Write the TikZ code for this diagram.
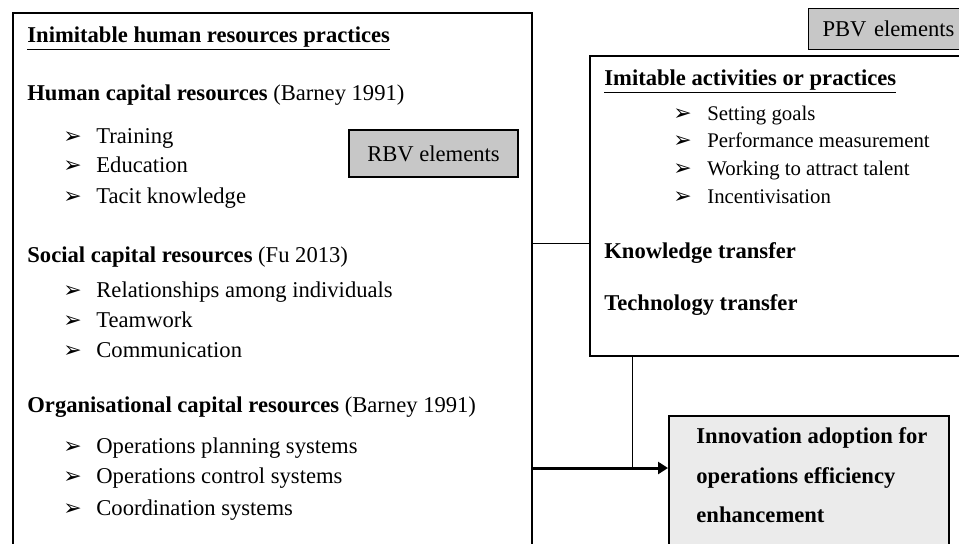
\documentclass[tikz,border=0pt]{standalone}
\usepackage{fontspec}
\setmainfont{Liberation Serif}
\newfontfamily\dingfont{DejaVu Sans}
\usetikzlibrary{arrows.meta}
\tikzset{>={Triangle[length=5pt,width=6pt]}}
\tikzset{
  panel/.style={draw, line width=1pt, inner sep=0pt, anchor=north west},
  tag/.style={draw, line width=0.6pt, fill=black!22, inner sep=0pt},
  txt/.style={anchor=base west, inner sep=0pt, font=\fontsize{11.3}{13}\selectfont},
  sub/.style={anchor=base west, inner sep=0pt, font=\fontsize{10.4}{12}\selectfont},
  link/.style={line width=0.5pt},
  feed/.style={line width=1.5pt, ->}
}
\newcommand{\pointer}[1]{\makebox[#1][l]{\raisebox{0pt}{\dingfont\fontsize{11}{11}\selectfont\char"27A2}}}

\begin{document}
\begin{tikzpicture}[x=0.5pt,y=-0.5pt]
      \clip (0,0) rectangle (959,543);
      % frames
      \node[panel, minimum width=259.5pt, minimum height=274pt] (hr) at (12,12) {};
      \node[panel, minimum width=193pt, minimum height=150pt] (act) at (589,55) {};
      \node[panel, fill=black!8, minimum width=140pt, minimum height=72.5pt] (innov) at (668,415) {};
      \node[tag, minimum width=84.5pt, minimum height=23.5pt, font=\fontsize{11.3}{13}\selectfont] (rbv) at (433.5,153.5) {RBV elements};
      \node[tag, anchor=north west, minimum height=20.5pt, inner xsep=7pt, text width=76pt, align=left, font=\fontsize{11.3}{13}\selectfont] (pbv) at (808,8) {PBV elements};
      % inimitable practices
      \node[txt] (hrtitle) at (27,42) {\textbf{\underline{Inimitable human resources practices}}};
      \node[txt] (hcap) at (27,100) {\textbf{Human capital resources} (Barney 1991)};
      \node[txt] (train) at (63,143) {\pointer{16.5pt}Training};
      \node[txt] (edu) at (63,172) {\pointer{16.5pt}Education};
      \node[txt] (tacit) at (63,203) {\pointer{16.5pt}Tacit knowledge};
      \node[txt] (scap) at (27,262) {\textbf{Social capital resources} (Fu 2013)};
      \node[txt] (relat) at (63,297) {\pointer{16.5pt}Relationships among individuals};
      \node[txt] (team) at (63,327) {\pointer{16.5pt}Teamwork};
      \node[txt] (comm) at (63,357) {\pointer{16.5pt}Communication};
      \node[txt] (ocap) at (27,412) {\textbf{Organisational capital resources} (Barney 1991)};
      \node[txt] (plan) at (63,453) {\pointer{16.5pt}Operations planning systems};
      \node[txt] (ctrl) at (63,483) {\pointer{16.5pt}Operations control systems};
      \node[txt] (coord) at (63,515) {\pointer{16.5pt}Coordination systems};
      % imitable activities
      \node[txt] (acttitle) at (604,85) {\textbf{\underline{Imitable activities or practices}}};
      \node[sub] (goals) at (673,120) {\pointer{17pt}Setting goals};
      \node[sub] (perf) at (673,147) {\pointer{17pt}Performance measurement};
      \node[sub] (talent) at (673,175) {\pointer{17pt}Working to attract talent};
      \node[sub] (incent) at (673,203) {\pointer{17pt}Incentivisation};
      \node[txt] (know) at (604,258) {\textbf{Knowledge transfer}};
      \node[txt] (tech) at (604,310) {\textbf{Technology transfer}};
      % outcome
      \node[txt] (out1) at (696,443) {\textbf{Innovation adoption for}};
      \node[txt] (out2) at (696,483) {\textbf{operations efficiency}};
      \node[txt] (out3) at (696,522) {\textbf{enhancement}};
      % connectors
      \coordinate (tie) at (560,243);
      \coordinate (split) at (632,468);
      \draw[link] (hr.east |- tie) -- (act.west |- tie);
      \draw[link] (act.south -| split) -- (split);
      \draw[feed] (hr.east |- split) -- (innov.west |- split);
    \end{tikzpicture}
\end{document}
